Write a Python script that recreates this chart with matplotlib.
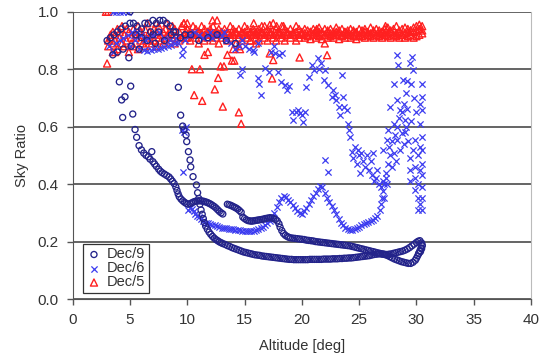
import matplotlib
matplotlib.use("Agg")
import matplotlib.pyplot as plt
import numpy as np

plt.rcParams['font.family'] = ['Liberation Sans', 'DejaVu Sans']

# ---------------- data ----------------
series_labels = ["Dec/9", "Dec/6", "Dec/5"]

# Dec/9 (circles)
dec9_top = [(3.0,.90),(3.3,.91),(3.6,.92),(3.9,.93),(4.2,.94),(4.6,.95),(5.0,.96),(5.3,.96),(5.6,.95),
            (6.0,.94),(6.3,.96),(6.6,.96),(7.0,.97),(7.3,.96),(7.6,.97),(7.9,.97),(8.2,.96),(8.5,.95),
            (3.5,.85),(3.9,.86),(4.9,.84),(5.1,.88),(5.5,.92),(6.0,.91),(6.5,.90),(7.0,.92),(7.5,.93),
            (8.0,.90),(8.6,.92),(9.0,.93),(9.4,.91),(9.8,.92),(10.3,.92),(11.0,.90),(11.8,.91),(12.6,.92),
            (13.4,.90),(14.2,.89),(4.4,.87),(5.8,.87),(6.8,.93),(7.2,.89),(8.8,.93),(5.0,1.0)]
dec9_branch_a = [(4.07,.756),(4.27,.693),(4.56,.704),(4.36,.632),(5.06,.741),(5.24,.644),(5.44,.59),
            (5.58,.563),(5.79,.534),(6.0,.519),(6.2,.508),(6.4,.50),(6.6,.495),(6.75,.487),(6.9,.513),
            (7.0,.478),(7.15,.47),(7.3,.462),(7.5,.452),(7.65,.445),(7.8,.44),(8.0,.435),(8.2,.43),
            (8.4,.425),(8.55,.418),(8.7,.41),(8.85,.402),(9.0,.39),(9.1,.378),(9.2,.366),(9.3,.356),
            (9.45,.348),(9.6,.342),(9.75,.337),(9.9,.333),(10.05,.33),(10.25,.332),(10.4,.335),
            (10.55,.338),(10.7,.34),(10.85,.341),(11.0,.342),(11.15,.342),(11.3,.341),(11.45,.34),
            (11.6,.338),(11.75,.336),(11.9,.333),(12.05,.33),(12.2,.326),(12.35,.322),(12.5,.317),
            (12.65,.311),(12.8,.305),(12.95,.30),(13.1,.296),
            (13.5,.33),(13.65,.328),(13.8,.326),(13.95,.323),(14.1,.32),(14.25,.317),(14.4,.313),
            (14.55,.308),(14.7,.302),
            (14.85,.285),(15.0,.28),(15.15,.276),(15.3,.273),(15.45,.272),(15.6,.271),(15.75,.272),
            (15.9,.273),(16.05,.274),(16.2,.275),(16.35,.276),(16.5,.277),(16.65,.278),(16.8,.28),
            (16.95,.281),(17.1,.282),(17.25,.283),(17.4,.282),(17.55,.28),(17.7,.277),(17.85,.272),
            (18.0,.262),(18.1,.25),(18.25,.238),(18.4,.228),(18.55,.222),(18.7,.218),(18.85,.215),
            (19.0,.213),(19.2,.212),(19.4,.211),(19.6,.21),(19.8,.209),(20.0,.208),(20.2,.207),
            (20.4,.205),(20.6,.204),(20.8,.203),(21.0,.202),(21.2,.20),(21.4,.199),(21.6,.198),
            (21.8,.197),(22.0,.196),(22.2,.195),(22.4,.194),(22.6,.193),(22.8,.192),(23.0,.191),
            (23.2,.19),(23.4,.189),(23.6,.188),(23.8,.187),(24.0,.186),(24.2,.185),(24.4,.183),
            (24.6,.181),(24.8,.179),(25.0,.177),(25.2,.175),(25.4,.173),(25.6,.171),(25.8,.169),
            (26.0,.167),(26.2,.165),(26.4,.163),(26.6,.161),(26.8,.159),(27.0,.157),(27.2,.156),
            (27.4,.155),(27.6,.156),(27.8,.157),(28.0,.159),(28.2,.161),(28.4,.163),(28.6,.165),
            (28.8,.167),(29.0,.17),(29.2,.174),(29.4,.179),(29.6,.185),(29.8,.191),(30.0,.197),
            (30.15,.201),(30.3,.203),(30.45,.195),(30.5,.185),(30.45,.175),(30.35,.165),(30.2,.158)]
dec9_branch_b = [(9.22,.737),(9.42,.64),(9.6,.602),(9.71,.588),(9.89,.571),(9.95,.548),(10.1,.513),
            (10.24,.484),(10.3,.46),(10.5,.426),(10.8,.397),(10.9,.37),(11.0,.35),(11.1,.33),(11.2,.31),
            (11.3,.295),(11.4,.28),(11.5,.266),(11.6,.254),(11.75,.243),(11.9,.233),(12.05,.225),
            (12.2,.218),(12.35,.212),(12.5,.207),(12.65,.203),(12.8,.199),(12.95,.196),(13.1,.193),
            (13.3,.19),(13.5,.186),(13.7,.183),(13.9,.179),(14.1,.176),(14.3,.173),(14.5,.17),
            (14.7,.167),(14.9,.164),(15.1,.162),(15.3,.16),(15.5,.158),(15.7,.156),(15.9,.154),
            (16.1,.153),(16.3,.152),(16.5,.15),(16.7,.149),(16.9,.148),(17.1,.147),(17.3,.146),
            (17.5,.145),(17.7,.144),(17.9,.143),(18.1,.142),(18.3,.141),(18.5,.14),(18.7,.139),
            (18.9,.138),(19.1,.138),(19.3,.137),(19.5,.137),(19.7,.137),(19.9,.137),(20.1,.137),
            (20.3,.137),(20.5,.137),(20.7,.138),(20.9,.138),(21.1,.138),(21.3,.138),(21.5,.138),
            (21.7,.138),(21.9,.139),(22.1,.139),(22.3,.139),(22.5,.139),(22.7,.14),(22.9,.14),
            (23.1,.14),(23.3,.141),(23.5,.141),(23.7,.142),(23.9,.142),(24.1,.143),(24.3,.143),
            (24.5,.144),(24.7,.145),(24.9,.146),(25.1,.147),(25.3,.148),(25.5,.149),(25.7,.15),
            (25.9,.151),(26.1,.153),(26.3,.155),(26.5,.156),(26.7,.157),(26.9,.157),(27.1,.156),
            (27.3,.154),(27.5,.151),(27.7,.147),(27.9,.143),(28.1,.139),(28.3,.136),(28.5,.133),
            (28.7,.13),(28.9,.128),(29.1,.126),(29.3,.124),(29.5,.124),(29.7,.128),(29.9,.135),
            (30.0,.142),(30.1,.15),(30.2,.159),(30.3,.168),(30.4,.178),(30.5,.188)]

# Dec/6 (x markers)
dec6_top = [(3.5,1.0),(3.8,1.0),(4.1,1.0),(4.4,1.0),(4.8,1.0),(3.2,.88),(3.5,.86),(3.8,.89),
            (4.1,.90),(4.4,.91),(4.8,.92),(5.2,.93),(5.6,.93),(6.0,.92),(6.3,.90),(5.0,.88),(5.4,.90),
            (5.8,.87),(6.2,.867),(6.5,.865),(6.8,.867),(7.1,.87),(7.4,.872),(7.7,.875),(8.0,.878),
            (8.3,.88),(8.6,.885),(8.9,.89),(9.2,.89),(9.5,.85),(9.6,.87),(9.8,.90),(10.2,.92),
            (10.6,.93),(11.0,.92),(11.4,.91),(11.8,.92),(12.2,.91),(12.6,.92),(13.0,.915),(13.4,.90),
            (13.8,.89),(14.2,.87),(14.5,.88),(15.0,.88),(15.4,.87),(15.8,.86),(7.0,.92),(7.5,.93),
            (8.0,.91),(6.6,.91),(8.5,.90),(9.0,.91),(12.0,.93),(13.2,.93),(14.8,.90),(16.2,.89),
            (17.3,.86),(17.6,.88),(18.0,.85),(18.3,.855)]
dec6_scatter = [(9.5,.59),(9.7,.58),(9.9,.60),(14.6,.78),(14.8,.80),(15.76,.867),(16.2,.768),
            (16.3,.75),(16.4,.71),(16.8,.803),(17.1,.791),(17.65,.855),(17.9,.791),(18.2,.756),
            (18.5,.745),(18.7,.727),(18.9,.74),(19.1,.652),(19.25,.623),(19.5,.65),(19.7,.658),
            (19.8,.646),(20.0,.64),(20.1,.617),(20.3,.65),(20.4,.739),(20.6,.774),(20.85,.815),
            (21.1,.797),(21.4,.838),(21.7,.82),(22.0,.797),(21.9,.762),(22.3,.745),(22.7,.727),
            (22.6,.704),(23.0,.693),(23.2,.669),(23.5,.78),(23.6,.704),(23.9,.658),(24.05,.611),
            (24.2,.565),(24.35,.513),(24.6,.53),(25.2,.507),(22.0,.484),(22.3,.443),(9.65,.443),
            (21.5,.80),(22.9,.71),(23.3,.64),(23.7,.67),(24.1,.59),(24.5,.49),(24.8,.47),(25.0,.50),
            (25.3,.48),(25.5,.46),(25.7,.50),(25.9,.45),(26.1,.43),(26.3,.41),(26.5,.42),(26.7,.40),
            (26.9,.39),(27.1,.41),(27.3,.44),(27.5,.47),(27.7,.50),(27.6,.53),(27.9,.55),(28.1,.57),
            (28.3,.60),(28.0,.61),(28.5,.63),(28.7,.65),(28.3,.693),(27.7,.669),(28.0,.75),
            (28.85,.762),(29.1,.716),(28.6,.658),(29.0,.623),(29.1,.60),(27.5,.588),(28.7,.577),
            (27.4,.553),(28.3,.553),(27.1,.519),(28.0,.507),(28.3,.849),(28.4,.815),(29.6,.843),
            (29.7,.797),(29.4,.82),(29.5,.75),(29.2,.76),(28.9,.68),(29.3,.55),(29.0,.58),(29.5,.62),
            (29.7,.519),(29.9,.553),(29.4,.49),(29.4,.45),(29.4,.41),(29.9,.46),(29.9,.42),(29.9,.38),
            (30.16,.40),(30.16,.35),(30.16,.31),(30.16,.501),(30.3,.53),(30.3,.611),(30.45,.75),
            (30.45,.704),(30.45,.658),(30.45,.565),(30.45,.52),(30.45,.47),(30.45,.43),(30.45,.39),
            (30.45,.35),(30.45,.31),(30.3,.33),(30.3,.45),(30.3,.68),(29.8,.70),(30.0,.65),(29.2,.66),
            (28.9,.54),(28.6,.52),(28.2,.48),(27.9,.46),(27.4,.40),(27.2,.35),(26.6,.45),(26.0,.48),
            (26.2,.51),(25.1,.44),(24.9,.52)]
dec6_low = [(10.1,.31),(10.25,.318),(10.4,.315),(10.55,.305),(10.7,.296),(10.85,.29),(11.0,.284),
            (11.2,.277),(11.4,.27),(11.6,.266),(11.8,.263),(12.0,.26),(12.2,.258),(12.4,.256),
            (12.6,.253),(12.8,.25),(13.0,.248),(13.2,.247),(13.4,.246),(13.6,.244),(13.8,.243),
            (14.0,.242),(14.2,.241),(14.4,.24),(14.6,.239),(14.8,.238),(15.0,.237),(15.2,.236),
            (15.4,.236),(15.6,.236),(15.8,.237),(16.0,.239),(16.2,.242),(16.4,.246),(16.6,.25),
            (16.8,.256),(17.0,.263),(17.2,.272),(17.4,.285),(17.6,.30),(17.8,.32),(18.0,.336),
            (18.2,.35),(18.4,.36),(18.6,.355),(18.8,.345),(19.0,.337),(19.2,.328),(19.4,.318),
            (19.6,.308),(19.8,.298),(20.0,.295),(20.2,.305),(20.4,.316),(20.6,.33),(20.8,.345),
            (21.0,.358),(21.2,.37),(21.4,.382),(21.6,.393),(21.8,.39),(22.0,.37),(22.2,.352),
            (22.4,.338),(22.6,.325),(22.8,.31),(23.0,.295),(23.2,.28),(23.4,.266),(23.6,.256),
            (23.8,.248),(24.0,.243),(24.2,.24),(24.4,.241),(24.6,.244),(24.8,.247),(25.0,.252),
            (25.2,.257),(25.4,.262),(25.6,.266),(25.8,.269),(26.0,.272),(26.2,.276),(26.4,.281),
            (26.6,.29),(26.8,.31),(26.9,.33),(27.0,.35),(27.1,.375),(27.2,.40),(27.3,.42)]

# Dec/5 (triangles)
dec5_early_alt = [3.1,3.3,3.5,3.7,3.9,4.1,4.3,4.5,4.7,4.9,5.1,5.3,5.5,5.7,5.9,6.1,6.3,6.5,6.7,6.9,
                  7.1,7.3,7.5,7.7,7.9,8.1,8.3,8.5,8.7,8.9,9.1,9.3,9.5,9.7,9.9]
dec5_early_upper = [.90,.92,.93,.92,.94,.93,.95,.92,.94,.93,.91,.94,.92,.95,.93,.92,.94,.96,.93,.92,
                    .94,.93,.95,.92,.93,.94,.92,.93,.95,.94,.92,.93,.95,.96,.93]
dec5_early_lower = [.88,.91,.89,.90,.87,.91,.89,.88,.90,.86,.89,.88,.91,.87,.90,.89,.88,.90,.91,.89,
                    .90,.88,.91,.90,.89,.91,.92,.90,.91,.89,.92,.90,.91,.92,.91]
dec5_band_alt = [10.0,10.25,10.5,10.75,11.0,11.25,11.5,11.75,12.0,12.25,12.5,12.75,13.0,13.25,13.5,
                 13.75,14.0,14.25,14.5,14.75,15.0,15.25,15.5,15.75,16.0,16.25,16.5,16.75,17.0,17.25,
                 17.5,17.75,18.0,18.25,18.5,18.75,19.0,19.25,19.5,19.75,20.0,20.25,20.5,20.75,21.0,
                 21.25,21.5,21.75,22.0,22.25,22.5,22.75,23.0,23.25,23.5,23.75,24.0,24.25,24.5,24.75,
                 25.0,25.25,25.5,25.75,26.0,26.25,26.5,26.75,27.0,27.25,27.5,27.75,28.0,28.25,28.5,
                 28.75,29.0,29.25,29.5,29.75,30.0,30.25,30.5]
dec5_band_upper = [.94,.93,.95,.94,.93,.95,.94,.93,.94,.95,.93,.94,.93,
                   .94,.93,.95,.94,.93,.94,.93,.95,.94,.93,.94,.93,
                   .94,.93,.95,.94,.93,.96,.94,.93,.95,.94,.93,.94,.93,.95,.94,.93,
                   .94,.935,.93,.94,.935,.945,.93,.94,.935,.94,.93,.945,.935,.94,.93,.935,.94,.935,.93,.94,
                   .935,.94,.93,.945,.935,.94,.935,.93,.94,.945,.935,.94,.95,.935,.94,.945,.94,.935,.945,.95,.955,.95]
dec5_band_mid = [.92,.93,.925,.92,.93,.925,.92,.93,.925,.92,.93,.925,.92,
                 .925,.93,.92,.925,.93,.92,.925,.93,.92,.925,.93,.92,
                 .925,.93,.92,.925,.93,.92,.925,.93,.92,.925,.93,.92,.925,.93,.92,.925,
                 .925,.92,.93,.925,.92,.93,.925,.92,.93,.925,.92,.93,.925,.92,.93,.925,.92,.93,.925,.92,
                 .925,.93,.92,.925,.93,.92,.925,.93,.92,.925,.93,.92,.925,.93,.92,.925,.93,.935,.93,.935,.94,.935]
dec5_band_lower = [.91,.90,.92,.91,.89,.92,.90,.91,.92,.90,.91,.89,.91,
                   .92,.90,.91,.92,.89,.91,.90,.92,.91,.90,.92,.91,
                   .90,.92,.91,.90,.92,.91,.90,.92,.91,.90,.92,.91,.92,.90,.91,.92,
                   .91,.915,.905,.92,.91,.915,.905,.92,.91,.915,.91,.92,.905,.915,.91,.92,.91,.915,.905,.915,
                   .915,.91,.92,.915,.91,.92,.915,.91,.92,.915,.91,.92,.915,.91,.92,.91,.915,.92,.91,.915,.92,.925]
dec5_outliers = [(2.9,1.0),(3.1,1.0),(3.0,.82),(3.5,.86),(3.7,.86),(10.4,.80),(11.1,.80),(10.6,.71),
                 (11.3,.69),(12.4,.73),(12.7,.77),(13.1,.67),(12.9,.81),(13.2,.81),(13.5,.85),(13.9,.83),
                 (14.1,.83),(14.5,.65),(14.7,.61),(14.6,.87),(11.5,.85),(11.8,.86),(12.2,.97),(12.6,.97),
                 (10.0,.96),(9.7,.96),(8.2,.96),(7.3,.96),(17.2,.855),(17.5,.832),(17.4,.768),(19.8,.841),
                 (22.0,.89),(22.2,.849),(17.2,.954),(15.8,.96),(16.5,.95),(17.8,.95),(18.4,.95),(21.3,.94),
                 (27.3,.95),(14.0,.87),(14.5,.88),(15.5,.90),(16.0,.89)]

# ---------------- assemble ----------------
def unzip(*parts):
    pts = [p for part in parts for p in part]
    return [p[0] for p in pts], [p[1] for p in pts]

d9x, d9y = unzip(dec9_top, dec9_branch_a, dec9_branch_b)
d6x, d6y = unzip(dec6_top, dec6_scatter, dec6_low)
d5x = dec5_early_alt * 2 + dec5_band_alt * 3
d5y = dec5_early_upper + dec5_early_lower + dec5_band_upper + dec5_band_mid + dec5_band_lower
ox, oy = unzip(dec5_outliers)
d5x = d5x + ox
d5y = d5y + oy

c9 = '#23238a'
c6 = '#3c3cf0'
c5 = '#ff2020'

fig = plt.figure(figsize=(5.48, 3.62), dpi=100)
ax = fig.add_axes([0.1327, 0.174, 0.8363, 0.7935])

ax.scatter(d5x, d5y, marker='^', s=26, facecolors='none', edgecolors=c5, linewidths=1.0,
           label=series_labels[2], zorder=3)
ax.scatter(d6x, d6y, marker='x', s=20, c=c6, linewidths=0.9, label=series_labels[1], zorder=4)
ax.scatter(d9x, d9y, marker='o', s=19, facecolors='none', edgecolors=c9, linewidths=0.95,
           label=series_labels[0], zorder=5)

ax.set_xlim(0, 40)
ax.set_ylim(0, 1.0)
ax.set_xticks(np.arange(0, 41, 5))
ax.set_yticks(np.arange(0, 1.01, 0.2))
ax.yaxis.set_major_formatter(matplotlib.ticker.FormatStrFormatter('%.1f'))
ax.yaxis.grid(True, color='#3a3a3a', linewidth=1.1, zorder=1)
ax.set_axisbelow(True)

ax.spines['top'].set_visible(False)
ax.spines['left'].set_color('#555555')
ax.spines['bottom'].set_color('#555555')
ax.spines['right'].set_color('#bbbbbb')
ax.tick_params(axis='both', direction='out', length=4, width=1, color='#555555',
               labelsize=11, labelcolor='#333333', pad=6)

ax.set_xlabel('Altitude [deg]', fontsize=10.5, color='#333333', labelpad=9)
ax.set_ylabel('Sky Ratio', fontsize=10.5, color='#333333', labelpad=6)

h, l = ax.get_legend_handles_labels()
order = [2, 1, 0]
leg = ax.legend([h[i] for i in order], [l[i] for i in order], loc='lower left',
                bbox_to_anchor=(0.0225, 0.021), borderaxespad=0, fancybox=False,
                edgecolor='#333333', framealpha=1, fontsize=10.5, handlelength=1.0,
                handletextpad=0.4, labelspacing=0.0, borderpad=0.25)
leg.get_frame().set_linewidth(0.9)
for t in leg.get_texts():
    t.set_color('#333333')

fig.savefig('out.png', dpi=100)
